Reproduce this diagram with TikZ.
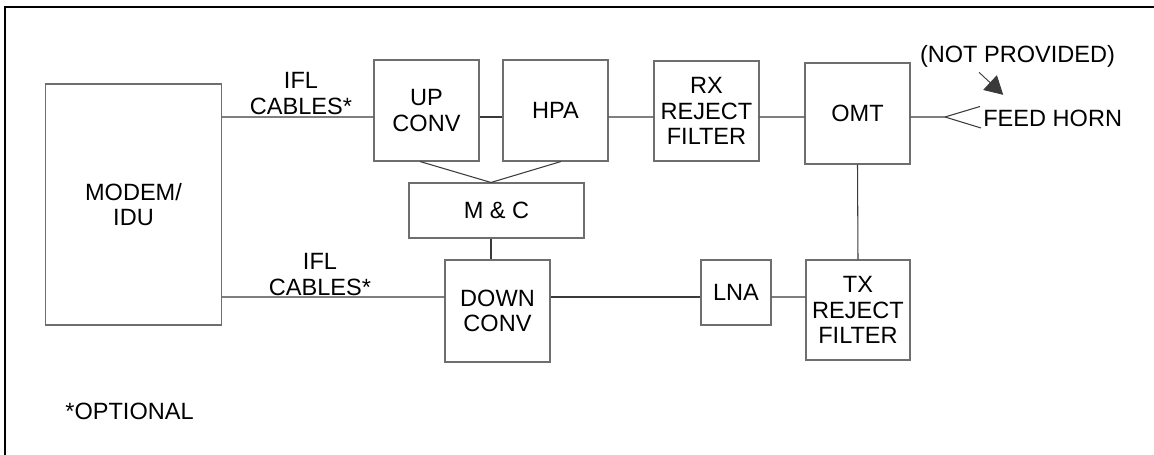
\documentclass[tikz,border=0pt]{standalone}
\usepackage{fontspec}
\setmainfont{Liberation Sans}
\usetikzlibrary{positioning,arrows.meta}
\definecolor{boxline}{HTML}{6E6E6E}
\definecolor{wire}{HTML}{3A3A3A}

\begin{document}
\begin{tikzpicture}[
  every node/.style={font=\fontsize{13.4}{14.5}\selectfont,align=center,inner sep=0pt},
  blk/.style={draw=boxline,line width=0.6pt,minimum width=2.1cm,minimum height=2.02cm},
  wires/.style={draw=wire,line width=0.6pt},
  >={Triangle[length=0.36cm,width=0.4cm]}]
\useasboundingbox (0,0) rectangle (23.08,-9.1);
\draw[line width=1.7pt] (0.1,-9.1) -- (0.1,-0.14) -- (23.08,-0.14);
% boxes
\node[blk,minimum width=3.52cm,minimum height=4.82cm] (modem) at (2.67,-4.09) {MODEM/\\IDU};
\node[blk] (up) at (8.53,-2.21) {UP\\CONV};
\node[blk] (hpa) at (11.11,-2.21) {HPA};
\node[blk,minimum height=2cm] (rx) at (14.13,-2.22) {RX\\REJECT\\FILTER};
\node[blk] (omt) at (17.15,-2.27) {OMT};
\node[blk,minimum width=3.5cm,minimum height=1.1cm] (mc) at (9.93,-4.21) {M \& C};
\node[blk,minimum height=2.04cm] (down) at (9.95,-6.22) {DOWN\\CONV};
\node[blk,minimum width=1.4cm,minimum height=1.3cm] (lna) at (14.72,-5.85) {LNA};
\node[blk,minimum width=2.08cm,minimum height=2cm] (tx) at (17.16,-6.2) {TX\\REJECT\\FILTER};
% labels
\node (ifltop) at (6.02,-1.87) {IFL\\CABLES*};
\node (iflbot) at (6.40,-5.49) {IFL\\CABLES*};
\node (opt) at (2.59,-8.22) {*OPTIONAL};
\node (notprov) at (20.35,-1.12) {(NOT PROVIDED)};
\node[anchor=west] (feed) at (19.66,-2.37) {FEED HORN};
\coordinate (horn) at (18.9,-2.34);
% connections
\draw[wires] ([yshift=1.75cm]modem.east) -- ([yshift=-0.13cm]up.west);
\draw[wires] ([yshift=-0.13cm]up.east) -- ([yshift=-0.13cm]hpa.west);
\draw[wires] ([yshift=-0.13cm]hpa.east) -- ([yshift=-0.12cm]rx.west);
\draw[wires] ([yshift=-0.12cm]rx.east) -- ([yshift=-0.07cm]omt.west);
\draw[wires] ([yshift=-0.07cm]omt.east) -- (horn);
\draw[wires] (horn) -- ++(0.7,0.21) (horn) -- ++(0.72,-0.22);
\draw[wires] ([xshift=-0.13cm]up.south) -- ([xshift=-0.11cm]mc.north);
\draw[wires] ([xshift=0.11cm]hpa.south) -- ([xshift=-0.11cm]mc.north);
\draw[wires] ([xshift=-0.11cm]mc.south) -- ([xshift=-0.13cm]down.north);
\draw[wires] ([yshift=-1.85cm]modem.east) -- ([yshift=0.28cm]down.west);
\draw[wires] ([yshift=0.28cm]down.east) -- ([yshift=-0.09cm]lna.west);
\draw[wires] ([yshift=-0.09cm]lna.east) -- ([yshift=0.26cm]tx.west);
\draw[wires] (omt.south) -- (tx.north);
\draw[->,draw=wire,fill=black!90,line width=0.5pt] ([shift={(-0.77,-0.1)}]notprov.south) -- ([shift={(-0.99,0.3)}]feed.north);
\end{tikzpicture}
\end{document}
